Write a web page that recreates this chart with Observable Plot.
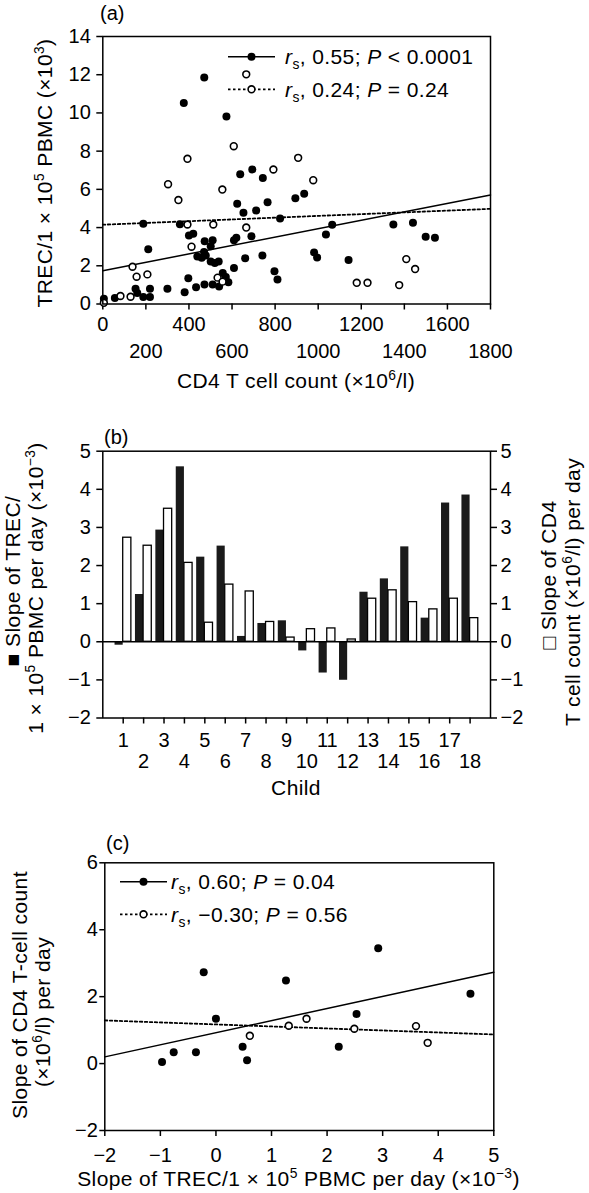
<!DOCTYPE html>
<html><head><meta charset="utf-8">
<script src="https://cdn.jsdelivr.net/npm/d3@7"></script>
<script src="https://cdn.jsdelivr.net/npm/@observablehq/plot@0.6"></script>
<style>
html,body{margin:0;padding:0;background:#fff;}
#chart svg{display:block;}
</style></head>
<body><div id="chart"></div>
<script>
// ---------- Panel (a): TREC vs CD4 count ----------
const aFilledCD4 = [471,376,574,638,694,743,624,653,712,765,894,935,823,188,358,1065,1036,400,420,211,473,510,501,609,620,690,439,459,478,470,501,520,538,661,741,609,397,797,811,557,571,583,510,472,433,540,380,300,219,219,152,160,188,56,5,1141,1349,1440,1499,1542,981,995];
const aFilledTREC = [11.85,10.52,9.81,6.79,7.04,6.60,5.25,4.78,4.90,5.33,5.54,5.77,4.47,4.20,4.17,4.15,3.64,3.59,3.68,2.86,3.28,3.33,3.02,3.33,3.47,3.54,2.49,2.42,2.54,2.72,2.23,2.14,2.23,2.40,2.54,1.88,1.35,1.72,1.28,1.62,1.41,1.14,1.02,1.02,0.88,0.92,0.62,0.80,0.80,0.36,0.80,0.57,0.36,0.32,0.27,2.30,4.16,4.25,3.52,3.47,2.70,2.44];
const aOpenCD4 = [666,608,393,907,792,977,303,351,555,393,513,666,412,138,157,207,82,129,5,533,556,1409,1450,1179,1229,1376];
const aOpenTREC = [12.02,8.26,7.60,7.65,7.04,6.48,6.27,5.44,5.99,4.16,4.16,4.00,3.00,1.95,1.43,1.55,0.42,0.38,0.06,1.38,1.17,2.35,1.83,1.11,1.11,0.99];
const aFitX = [0, 1800];
const aFilledFitY = [1.74, 5.71];
const aOpenFitY = [4.15, 4.98];
const aTicksRow1 = [0, 400, 800, 1200, 1600];
const aTicksRow2 = [200, 600, 1000, 1400, 1800];
const aTicksY = [0, 2, 4, 6, 8, 10, 12, 14];

// ---------- Panel (b): slopes per child ----------
const bChild = [1,2,3,4,5,6,7,8,9,10,11,12,13,14,15,16,17,18];
const bTRECSlope = [-0.09,1.24,2.93,4.59,2.22,2.51,0.14,0.48,0.55,-0.24,-0.82,-1.01,1.30,1.65,2.49,0.62,3.64,3.85];
const bCD4Slope = [2.73,2.52,3.49,2.07,0.50,1.50,1.32,0.52,0.11,0.33,0.35,0.06,1.13,1.35,1.04,0.85,1.13,0.62];
const bTicksY = [-2,-1,0,1,2,3,4,5];

// ---------- Panel (c): CD4 slope vs TREC slope ----------
const cFilledTREC = [-0.97,-0.76,-0.36,-0.22,0.00,0.48,0.56,1.26,2.53,2.21,2.92,4.58];
const cFilledCD4 = [0.05,0.34,0.34,2.73,1.34,0.50,0.10,2.48,1.48,0.50,3.45,2.09];
const cOpenTREC = [0.61,1.31,1.63,2.49,3.60,3.81];
const cOpenCD4 = [0.83,1.13,1.34,1.04,1.12,0.62];
const cFitX = [-2, 5];
const cFilledFitY = [0.20, 2.73];
const cOpenFitY = [1.29, 0.87];
const cTicksX = [-2,-1,0,1,2,3,4,5];
const cTicksY = [-2,0,2,4,6];

// ---------- helpers ----------
const fmt = d => d < 0 ? "\u2212" + Math.abs(d) : String(d);
const FONT = "'Liberation Sans', Arial, Helvetica, sans-serif";
const baseStyle = {fontFamily: FONT, fontSize: "20px", color: "black", background: "white", display: "block", overflow: "visible"};

function richText(svg, {x, y, rotate = 0, anchor = "start", size = 21, ls = 0.4, parts}) {
  const t = d3.select(svg).append("text")
    .attr("transform", `translate(${x},${y}) rotate(${rotate})`)
    .attr("text-anchor", anchor)
    .attr("font-size", size)
    .attr("font-family", FONT)
    .attr("letter-spacing", ls)
    .attr("fill", "black");
  let shift = 0;
  for (const p of parts) {
    const [str, kind] = typeof p === "string" ? [p, ""] : p;
    const ts = t.append("tspan").text(str);
    let target = 0;
    if (kind === "sup") { target = -size * 0.4; ts.attr("font-size", size * 0.66); }
    else if (kind === "sub") { target = size * 0.25; ts.attr("font-size", size * 0.66); }
    else if (kind === "i") ts.attr("font-style", "italic");
    if (target !== shift) { ts.attr("dy", target - shift); shift = target; }
  }
  return t;
}
function legendRow(svg, {x1, x2, y, dashed, open, tx, parts}) {
  const g = d3.select(svg).append("g");
  g.append("line").attr("x1", x1).attr("x2", x2).attr("y1", y).attr("y2", y)
    .attr("stroke", "black").attr("stroke-width", dashed ? 1.8 : 1.5)
    .attr("stroke-dasharray", dashed ? "2.5,2.5" : null);
  g.append("circle").attr("cx", (x1 + x2) / 2).attr("cy", y).attr("r", open ? 3.4 : 4)
    .attr("fill", open ? "white" : "black").attr("stroke", open ? "black" : "none").attr("stroke-width", 1.6);
  richText(svg, {x: tx, y: y + 7.3, parts});
}

const chart = document.getElementById("chart");

// ---------- build panel (a) ----------
const aFilled = aFilledCD4.map((v, i) => ({cd4: v, trec: aFilledTREC[i]}));
const aOpen = aOpenCD4.map((v, i) => ({cd4: v, trec: aOpenTREC[i]}));
const aFit = aFitX.map((v, i) => ({x: v, filled: aFilledFitY[i], open: aOpenFitY[i]}));

const plotA = Plot.plot({
  width: 589, height: 400,
  marginLeft: 102.3, marginRight: 99, marginTop: 36, marginBottom: 96.5,
  style: baseStyle,
  x: {domain: [0, 1800]},
  y: {domain: [0, 14]},
  marks: [
    Plot.axisY({ticks: aTicksY, tickSize: 6, tickPadding: 6, tickFormat: fmt, label: null, strokeWidth: 1.5}),
    Plot.axisX({ticks: aTicksRow1, tickSize: 6, tickPadding: 7, tickFormat: fmt, label: null, strokeWidth: 1.5}),
    Plot.axisX({ticks: aTicksRow2, tickSize: 6, tickPadding: 33.5, tickFormat: fmt, label: null, strokeWidth: 1.5}),
    Plot.line(aFit, {x: "x", y: "filled", stroke: "black", strokeWidth: 1.5}),
    Plot.line(aFit, {x: "x", y: "open", stroke: "black", strokeWidth: 1.8, strokeDasharray: "2.5,2.5"}),
    Plot.dot(aFilled, {x: "cd4", y: "trec", r: 4, fill: "black"}),
    Plot.dot(aOpen, {x: "cd4", y: "trec", r: 3.4, fill: "white", stroke: "black", strokeWidth: 1.6}),
    Plot.frame({stroke: "black", strokeWidth: 1.5})
  ]
});
chart.appendChild(plotA);
richText(plotA, {x: 100, y: 20, parts: ["(a)"], size: 20, ls: 0});
legendRow(plotA, {x1: 228, x2: 275, y: 56.7, dashed: false, open: false, tx: 285,
  parts: [["r", "i"], ["s", "sub"], ", 0.55; ", ["P", "i"], " < 0.0001"]});
legendRow(plotA, {x1: 228, x2: 275, y: 89.3, dashed: true, open: true, tx: 285,
  parts: [["r", "i"], ["s", "sub"], ", 0.24; ", ["P", "i"], " = 0.24"]});
richText(plotA, {x: 296, y: 388, anchor: "middle", parts: ["CD4 T cell count (\u00d710", ["6", "sup"], "/l)"]});
richText(plotA, {x: 52, y: 173, rotate: -90, anchor: "middle", parts: ["TREC/1 \u00d7 10", ["5", "sup"], " PBMC (\u00d710", ["3", "sup"], ")"]});

// ---------- build panel (b) ----------
const bData = bChild.map((c, i) => ({child: c, trec: bTRECSlope[i], cd4: bCD4Slope[i]}));
const plotB = Plot.plot({
  width: 589, height: 410,
  marginLeft: 102.3, marginRight: 99, marginTop: 50.7, marginBottom: 92.5,
  style: baseStyle,
  x: {domain: [0, 19]},
  y: {domain: [-2, 5]},
  marks: [
    Plot.rect(bData, {x1: d => d.child - 0.4, x2: d => d.child, y1: 0, y2: "trec", fill: "#1a1a1a"}),
    Plot.rect(bData, {x1: d => d.child, x2: d => d.child + 0.4, y1: 0, y2: "cd4", fill: "white", stroke: "black", strokeWidth: 1.3}),
    Plot.ruleY([0], {stroke: "black", strokeWidth: 1.5}),
    Plot.axisY({ticks: bTicksY, tickSize: 6, tickPadding: 6, tickFormat: fmt, label: null, strokeWidth: 1.5}),
    Plot.axisY({anchor: "right", ticks: bTicksY, tickSize: 6, tickPadding: 4, tickFormat: fmt, label: null, strokeWidth: 1.5}),
    Plot.axisX({ticks: bChild.filter(c => c % 2 === 1), tickSize: 6, tickPadding: 8.5, tickFormat: fmt, label: null, strokeWidth: 1.5}),
    Plot.axisX({ticks: bChild.filter(c => c % 2 === 0), tickSize: 6, tickPadding: 29.5, tickFormat: fmt, label: null, strokeWidth: 1.5}),
    Plot.frame({stroke: "black", strokeWidth: 1.5})
  ]
});
chart.appendChild(plotB);
richText(plotB, {x: 104, y: 44, parts: ["(b)"], size: 20, ls: 0});
richText(plotB, {x: 296, y: 395, anchor: "middle", parts: ["Child"]});
richText(plotB, {x: 20, y: 181, rotate: -90, anchor: "middle", parts: ["\u25a0 Slope of TREC/"]});
richText(plotB, {x: 43, y: 188, rotate: -90, anchor: "middle", parts: ["1 \u00d7 10", ["5", "sup"], " PBMC per day (\u00d710", ["\u22123", "sup"], ")"]});
richText(plotB, {x: 556, y: 175, rotate: -90, anchor: "middle", parts: ["\u25a1 Slope of CD4"]});
richText(plotB, {x: 580, y: 192, rotate: -90, anchor: "middle", parts: ["T cell count (\u00d710", ["6", "sup"], "/l) per day"]});

// ---------- build panel (c) ----------
const cFilled = cFilledTREC.map((v, i) => ({trec: v, cd4: cFilledCD4[i]}));
const cOpen = cOpenTREC.map((v, i) => ({trec: v, cd4: cOpenCD4[i]}));
const cFit = cFitX.map((v, i) => ({x: v, filled: cFilledFitY[i], open: cOpenFitY[i]}));
const plotC = Plot.plot({
  width: 589, height: 383,
  marginLeft: 104.3, marginRight: 95.7, marginTop: 52.3, marginBottom: 63,
  style: baseStyle,
  x: {domain: [-2, 5]},
  y: {domain: [-2, 6]},
  marks: [
    Plot.axisY({ticks: cTicksY, tickSize: 5, tickPadding: 2, tickFormat: fmt, label: null, strokeWidth: 1.5}),
    Plot.axisX({ticks: cTicksX, tickSize: 6, tickPadding: 11, tickFormat: fmt, label: null, strokeWidth: 1.5}),
    Plot.line(cFit, {x: "x", y: "filled", stroke: "black", strokeWidth: 1.5}),
    Plot.line(cFit, {x: "x", y: "open", stroke: "black", strokeWidth: 1.8, strokeDasharray: "2.5,2.5"}),
    Plot.dot(cFilled, {x: "trec", y: "cd4", r: 4, fill: "black"}),
    Plot.dot(cOpen, {x: "trec", y: "cd4", r: 3.4, fill: "white", stroke: "black", strokeWidth: 1.6}),
    Plot.frame({stroke: "black", strokeWidth: 1.5})
  ]
});
chart.appendChild(plotC);
richText(plotC, {x: 106, y: 40, parts: ["(c)"], size: 20, ls: 0});
legendRow(plotC, {x1: 120, x2: 167, y: 71.7, dashed: false, open: false, tx: 171,
  parts: [["r", "i"], ["s", "sub"], ", 0.60; ", ["P", "i"], " = 0.04"]});
legendRow(plotC, {x1: 120, x2: 167, y: 104.3, dashed: true, open: true, tx: 171,
  parts: [["r", "i"], ["s", "sub"], ", \u22120.30; ", ["P", "i"], " = 0.56"]});
richText(plotC, {x: 298.5, y: 376, anchor: "middle", parts: ["Slope of TREC/1 \u00d7 10", ["5", "sup"], " PBMC per day (\u00d710", ["\u22123", "sup"], ")"]});
richText(plotC, {x: 27, y: 185, rotate: -90, anchor: "middle", parts: ["Slope of CD4 T-cell count"]});
richText(plotC, {x: 50, y: 202, rotate: -90, anchor: "middle", parts: ["(\u00d710", ["6", "sup"], "/l) per day"]});
</script>
</body></html>
